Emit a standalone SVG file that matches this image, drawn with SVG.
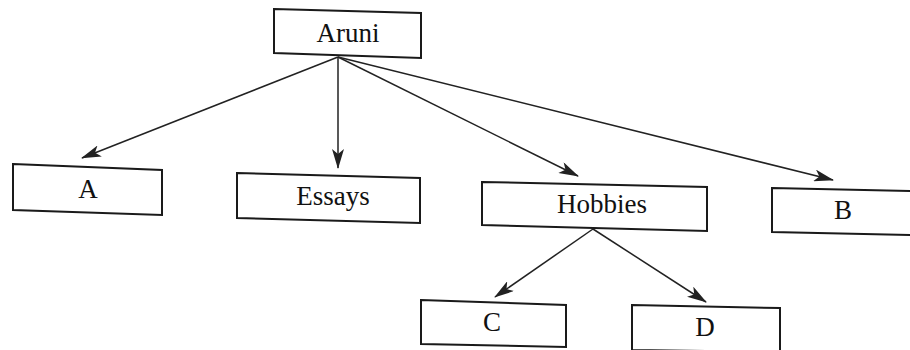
<svg xmlns="http://www.w3.org/2000/svg" width="910" height="350" viewBox="0 0 910 350">
<style>
.box{fill:#fff;stroke:#1a1a1a;stroke-width:2}
.lbl{font-family:"Liberation Serif","Times New Roman",serif;font-size:27px;fill:#111;text-anchor:middle}
.edge{stroke:#222;stroke-width:1.5;fill:none;marker-end:url(#ah)}
</style>
<defs>
<marker id="ah" viewBox="0 0 20 12" refX="19" refY="6" markerWidth="20" markerHeight="12" markerUnits="userSpaceOnUse" orient="auto">
<path d="M0,0 L20,6 L0,12 L5,6 Z" fill="#222"/>
</marker>
</defs>
<rect width="910" height="350" fill="#fff"/>
<g id="connectors">
<line class="edge" x1="338" y1="57" x2="82" y2="158"/>
<line class="edge" x1="338" y1="57" x2="338" y2="168"/>
<line class="edge" x1="338" y1="57" x2="578" y2="176"/>
<line class="edge" x1="338" y1="57" x2="833" y2="180"/>
<line class="edge" x1="593" y1="229" x2="495" y2="297"/>
<line class="edge" x1="593" y1="229" x2="706" y2="302"/>
</g>
<g id="node-aruni">
<polygon class="box" points="274,9 421,13 421,58 274,53"/>
<text class="lbl" x="348" y="42">Aruni</text>
</g>
<g id="node-a">
<polygon class="box" points="13,164 162,170 162,215 13,210"/>
<text class="lbl" x="88" y="198">A</text>
</g>
<g id="node-essays">
<polygon class="box" points="237,173 420,178 420,223 237,218"/>
<text class="lbl" x="333" y="205">Essays</text>
</g>
<g id="node-hobbies">
<polygon class="box" points="482,182 707,187 707,231 482,225"/>
<text class="lbl" x="602" y="213">Hobbies</text>
</g>
<g id="node-b">
<polygon class="box" points="772,188 912,191 912,235 772,232"/>
<text class="lbl" x="843" y="219">B</text>
</g>
<g id="node-c">
<polygon class="box" points="421,300 566,305 566,347 421,344"/>
<text class="lbl" x="492" y="331">C</text>
</g>
<g id="node-d">
<polygon class="box" points="632,305 780,308 780,352 632,350"/>
<text class="lbl" x="705" y="336">D</text>
</g>
</svg>
